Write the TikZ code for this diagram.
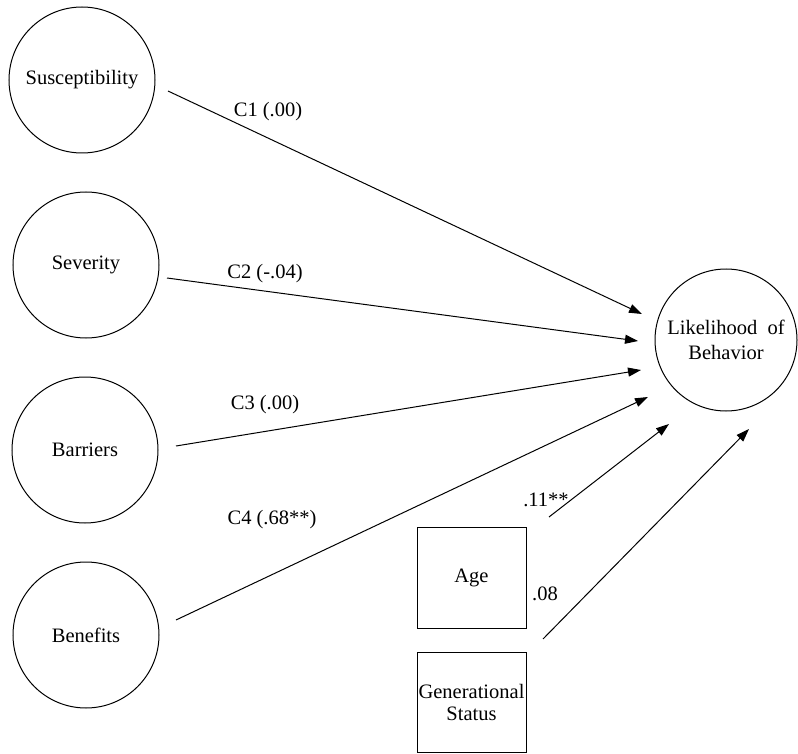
\documentclass[tikz,border=0pt]{standalone}
\usepackage{fontspec}
\setmainfont{Liberation Serif}
\usetikzlibrary{arrows.meta}
\begin{document}
\begin{tikzpicture}[x=1pt,y=-1pt,
  every node/.style={font=\fontsize{20.5}{25}\selectfont},
  construct/.style={draw,circle,line width=1pt,minimum size=146pt,inner sep=0pt,align=center},
  covar/.style={draw,rectangle,line width=1pt,minimum width=109pt,minimum height=101pt,inner sep=0pt,align=center},
  path/.style={line width=1pt,-{Triangle[length=13pt,width=9pt]}},
  coef/.style={inner sep=1pt}]
\useasboundingbox (0,0) rectangle (798,754);

% latent constructs
\node[construct] (sus) at (82,80) {Susceptibility};
\node[construct] (sev) at (86,265) {Severity};
\node[construct] (bar) at (85,450) {Barriers};
\node[construct] (ben) at (86,635) {Benefits};
\node[construct,minimum size=142pt] (lik) at (726,340) {Likelihood\ \ of\\Behavior};

% observed covariates
\node[covar] (age) at (471.5,578) {Age};
\node[covar,minimum height=100pt] (gen) at (471.5,702) {Generational\\[-3pt]Status};

% path end points
\coordinate (s1) at (168,91);   \coordinate (e1) at (642,314);
\coordinate (s2) at (167,278);  \coordinate (e2) at (638,341);
\coordinate (s3) at (176,446);  \coordinate (e3) at (641,370);
\coordinate (s4) at (176,620);  \coordinate (e4) at (648,397);
\coordinate (s5) at (549,517);  \coordinate (e5) at (669,424);
\coordinate (s6) at (543,639);  \coordinate (e6) at (749,429);

\draw[path] (s1) -- (e1);
\draw[path] (s2) -- (e2);
\draw[path] (s3) -- (e3);
\draw[path] (s4) -- (e4);
\draw[path] (s5) -- (e5);
\draw[path] (s6) -- (e6);

% path coefficients
\node[coef] (c1) at (268,112) {C1 (.00)};
\node[coef] (c2) at (265,274) {C2 (-.04)};
\node[coef] (c3) at (265,405) {C3 (.00)};
\node[coef] (c4) at (272,520) {C4 (.68**)};
\node[coef] (cage) at (546,500) {.11**};
\node[coef] (cgen) at (545,594) {.08};
\end{tikzpicture}
\end{document}
